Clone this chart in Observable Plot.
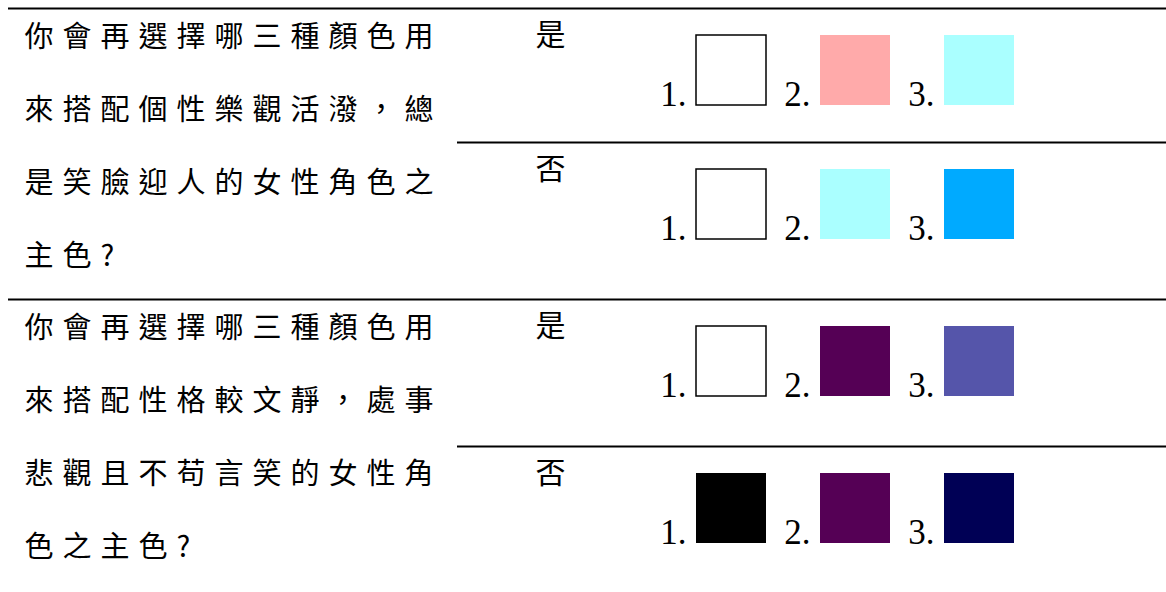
<!DOCTYPE html>
<html>
<head>
<meta charset="utf-8">
<script src="https://cdn.jsdelivr.net/npm/d3@7"></script>
<script src="https://cdn.jsdelivr.net/npm/@observablehq/plot@0.6"></script>
<style>
  html, body { margin: 0; padding: 0; background: #ffffff; }
  #chart svg { display: block; }
  .qtext text { letter-spacing: 9px; }
</style>
</head>
<body>
<div id="chart"></div>
<script>
// ---- data ----
const questionLines = [
  ["你會再選擇哪三種顏色用", "來搭配個性樂觀活潑，總", "是笑臉迎人的女性角色之", "主色?"],
  ["你會再選擇哪三種顏色用", "來搭配性格較文靜，處事", "悲觀且不苟言笑的女性角", "色之主色?"]
];
const answers = ["是", "否"];
const rankLabels = ["1.", "2.", "3."];
const swatchColors = [
  ["#FFFFFF", "#FFAAAA", "#AAFFFF"],  // Q1 是
  ["#FFFFFF", "#AAFFFF", "#00AAFF"],  // Q1 否
  ["#FFFFFF", "#550055", "#5555AA"],  // Q2 是
  ["#000000", "#550055", "#000055"]   // Q2 否
];

// ---- layout (derived, not data) ----
const W = 1166, H = 592;
const rowTops = [8, 142, 299, 446];
const sectionTops = [8, 299];
const swatchLeft0 = 696, swatchStep = 124, swatchSize = 70, swatchBottomOffset = 97;

const qRows = [];
questionLines.forEach((lines, s) => lines.forEach((t, i) => qRows.push({s, i, t})));

const ansRows = [];
questionLines.forEach((_, s) => answers.forEach((a, j) => ansRows.push({r: s * 2 + j, a})));

const swatches = [];
swatchColors.forEach((cols, r) => cols.forEach((c, k) => swatches.push({r, k, c, label: rankLabels[k]})));

const fullRules = sectionTops.map(y => ({y}));
const midRules = [rowTops[1], rowTops[3]].map(y => ({y}));

const plot = Plot.plot({
  width: W,
  height: H,
  margin: 0,
  x: {domain: [0, W], range: [0, W], axis: null},
  y: {domain: [0, H], range: [0, H], axis: null},
  marks: [
    Plot.ruleY(fullRules, {y: "y", x1: 8, x2: W, stroke: "black", strokeWidth: 2}),
    Plot.ruleY(midRules, {y: "y", x1: 457, x2: W, stroke: "black", strokeWidth: 2}),
    Plot.text(qRows, {
      x: 24,
      y: d => sectionTops[d.s] + 29 + d.i * 73,
      text: "t",
      textAnchor: "start",
      lineAnchor: "middle",
      fontSize: 29,
      fontFamily: "'Noto Sans CJK TC', sans-serif",
      fill: "black",
      className: "qtext"
    }),
    Plot.text(ansRows, {
      x: 550,
      y: d => rowTops[d.r] + 27,
      text: "a",
      textAnchor: "middle",
      lineAnchor: "middle",
      fontSize: 30,
      fontFamily: "'Noto Sans CJK TC', sans-serif",
      fill: "black"
    }),
    Plot.rect(swatches, {
      x1: d => swatchLeft0 + d.k * swatchStep,
      x2: d => swatchLeft0 + d.k * swatchStep + swatchSize,
      y1: d => rowTops[d.r] + swatchBottomOffset - swatchSize,
      y2: d => rowTops[d.r] + swatchBottomOffset,
      fill: d => d.c,
      stroke: d => d.c === "#FFFFFF" ? "black" : "none",
      strokeWidth: 1.5,
      inset: 0
    }),
    Plot.text(swatches, {
      x: d => swatchLeft0 + d.k * swatchStep - 10,
      y: d => rowTops[d.r] + swatchBottomOffset,
      text: "label",
      textAnchor: "end",
      lineAnchor: "bottom",
      fontSize: 35,
      fontFamily: "'Liberation Serif', 'Times New Roman', serif",
      fill: "black"
    })
  ]
});
document.getElementById("chart").appendChild(plot);
</script>
</body>
</html>
